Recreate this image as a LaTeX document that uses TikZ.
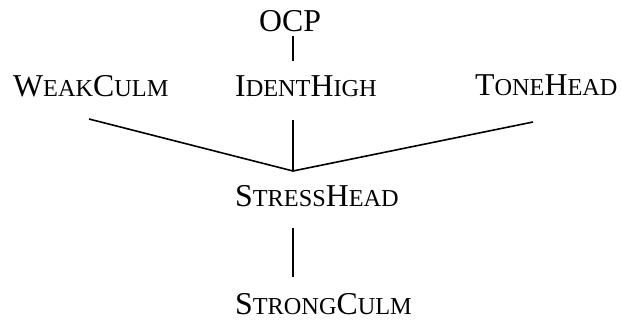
\documentclass[tikz,border=0pt]{standalone}
\usepackage{fontspec}
\setmainfont{Liberation Serif}
\newcommand{\smc}[1]{{\fontsize{24.3}{25}\selectfont #1}}
\begin{document}
\begin{tikzpicture}[x=1pt,y=-1pt,
  lbl/.style={inner sep=0pt, anchor=base west, text depth=0pt, font=\fontsize{31.8}{32}\selectfont},
  edge/.style={line width=1.6pt}]
\useasboundingbox (0,0) rectangle (621,320);
\node[lbl] (ocp) at (259,32) {OCP};
\node[lbl] (wc) at (13,97) {W\smc{EAK}C\smc{ULM}};
\node[lbl] (ih) at (235,97) {I\smc{DENT}H\smc{IGH}};
\node[lbl] (th) at (475,96) {T\smc{ONE}H\smc{EAD}};
\node[lbl] (sh) at (235,207) {S\smc{TRESS}H\smc{EAD}};
\node[lbl] (sc) at (235,315) {S\smc{TRONG}C\smc{ULM}};
\coordinate (ocpB) at (293,36);
\coordinate (ihT) at (293,61);
\coordinate (wcB) at (89,119);
\coordinate (ihB) at (293,120);
\coordinate (thB) at (533,122);
\coordinate (j) at (293,171);
\coordinate (shB) at (293,228);
\coordinate (scT) at (293,277);
\draw[edge] (ocpB) -- (ihT);
\draw[edge] (wcB) -- (j);
\draw[edge] (ihB) -- (j);
\draw[edge] (thB) -- (j);
\draw[edge] (shB) -- (scT);
\end{tikzpicture}
\end{document}
